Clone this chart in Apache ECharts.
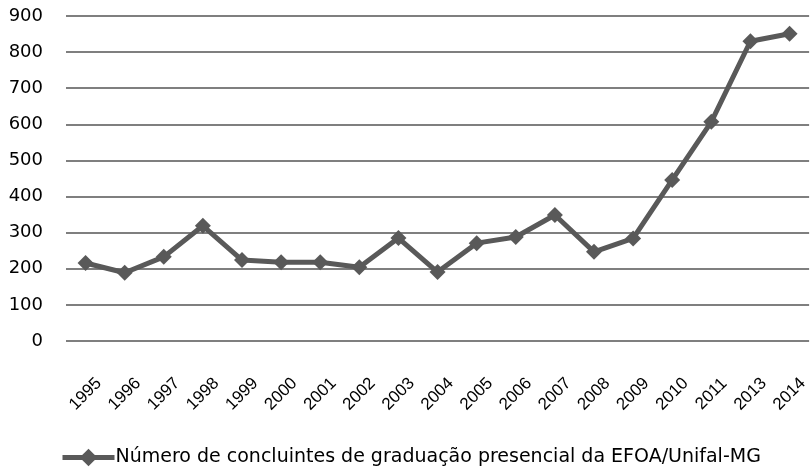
<!DOCTYPE html>
<html>
<head>
<meta charset="utf-8">
<script src="https://cdn.jsdelivr.net/npm/echarts@6/dist/echarts.min.js"></script>
<style>
  html, body { margin: 0; padding: 0; background: #fff; }
  #chart { width: 811px; height: 471px; }
</style>
</head>
<body>
<div id="chart"></div>
<script>
// anos e número de concluintes
var anos = ['1995', '1996', '1997', '1998', '1999', '2000', '2001', '2002', '2003', '2004',
            '2005', '2006', '2007', '2008', '2009', '2010', '2011', '2013', '2014'];
var concluintes = [216, 189, 233, 319, 224, 218, 218, 204, 285, 191,
                   271, 288, 349, 247, 284, 446, 607, 830, 851];
var nomeSerie = 'Número de concluintes de graduação presencial da EFOA/Unifal-MG';

var chart = echarts.init(document.getElementById('chart'));

var option = {
    animation: false,
    color: ['#595959'],
    grid: {
        left: 66,
        right: 0,
        top: 16,
        bottom: 130
    },
    xAxis: {
        type: 'category',
        data: anos,
        boundaryGap: true,
        axisLine: { show: false },
        axisTick: { show: false },
        axisLabel: {
            rotate: 45,
            interval: 0,
            align: 'center',
            verticalAlign: 'middle',
            margin: 53,
            color: '#000',
            fontFamily: 'Liberation Sans',
            fontSize: 17
        }
    },
    yAxis: {
        type: 'value',
        min: 0,
        max: 900,
        interval: 100,
        axisLine: { show: false },
        axisTick: { show: false },
        axisLabel: {
            margin: 23,
            color: '#000',
            fontFamily: 'DejaVu Sans',
            fontSize: 18
        },
        splitLine: {
            lineStyle: { color: '#7f7f7f', width: 2 }
        }
    },
    legend: {
        top: 443,
        left: 55,
        itemWidth: 52,
        itemHeight: 22,
        itemGap: 0,
        lineStyle: { width: 5 },
        textStyle: {
            color: '#000',
            fontFamily: 'DejaVu Sans',
            fontSize: 19,
            padding: [0, 0, 0, -4]
        },
        data: [nomeSerie]
    },
    series: [
        {
            name: nomeSerie,
            type: 'line',
            data: concluintes,
            symbol: 'diamond',
            symbolSize: 16,
            lineStyle: { width: 5, color: '#595959' },
            itemStyle: { color: '#595959' }
        }
    ]
};

option && chart.setOption(option);
</script>
</body>
</html>
